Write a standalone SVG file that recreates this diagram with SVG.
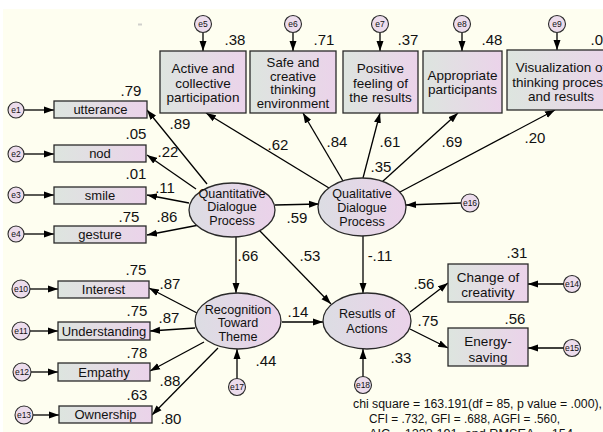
<svg xmlns="http://www.w3.org/2000/svg" width="603" height="432" viewBox="0 0 603 432">
<style>
.bx{stroke:#2a2a2a;stroke-width:1.3;fill:url(#gb)}
.el{stroke:#2a2a2a;stroke-width:1.3;fill:url(#ge)}
.ec{stroke:#2a2a2a;stroke-width:1.1;fill:#ecdcec}
.t{font-family:"Liberation Sans",Arial,sans-serif;fill:#111;text-anchor:middle}
.tb{font-size:13.5px}
.ts{font-size:13.2px}
.ti{font-size:13px}
.te{font-size:12.6px}
.tn{font-size:15px}
.tc{font-size:8.5px}
.ln{stroke:#000;stroke-width:1.3;fill:none;marker-end:url(#ah)}
.ft{font-family:"Liberation Sans",Arial,sans-serif;font-size:12.3px;fill:#111}
</style>
<defs>
<linearGradient id="gb" x1="0" y1="0" x2="1" y2="0">
<stop offset="0" stop-color="#dde5df"/>
<stop offset="1" stop-color="#ebd3ea"/>
</linearGradient>
<linearGradient id="ge" x1="0" y1="0" x2="1" y2="0">
<stop offset="0" stop-color="#dcdde3"/>
<stop offset="1" stop-color="#ebd2ea"/>
</linearGradient>
<marker id="ah" markerWidth="11" markerHeight="8" refX="10" refY="4" orient="auto" markerUnits="userSpaceOnUse">
<path d="M0,0.5 L10,4 L0,7.5 z" fill="#000"/>
</marker>
</defs>
<rect x="0" y="0" width="603" height="432" fill="#ffffff"/>
<rect x="3" y="9" width="600" height="423" fill="#fefef0"/>
<rect x="138" y="23.5" width="4" height="2" fill="#d0d0cc"/>

<g id="connectors">
<line class="ln" x1="203" y1="33" x2="203" y2="51"/>
<line class="ln" x1="293" y1="33" x2="293" y2="51"/>
<line class="ln" x1="380" y1="33" x2="380" y2="51"/>
<line class="ln" x1="462" y1="33" x2="462" y2="51"/>
<line class="ln" x1="557" y1="33" x2="557" y2="50"/>
<line class="ln" x1="24" y1="110" x2="54" y2="110"/>
<line class="ln" x1="24" y1="154" x2="54" y2="154"/>
<line class="ln" x1="24" y1="195" x2="54" y2="195"/>
<line class="ln" x1="24" y1="234" x2="54" y2="234"/>
<line class="ln" x1="30" y1="289" x2="58" y2="289"/>
<line class="ln" x1="30" y1="331" x2="58" y2="331"/>
<line class="ln" x1="31" y1="372" x2="58" y2="372"/>
<line class="ln" x1="33" y1="415" x2="59" y2="415"/>
<line class="ln" x1="564" y1="284" x2="528" y2="284"/>
<line class="ln" x1="564" y1="348" x2="528" y2="348"/>
<line class="ln" x1="461" y1="203" x2="406" y2="205"/>
<line class="ln" x1="237" y1="379" x2="237" y2="349"/>
<line class="ln" x1="363" y1="377" x2="363" y2="349"/>
<line class="ln" x1="329" y1="188" x2="206" y2="113"/>
<line class="ln" x1="343" y1="181" x2="303" y2="113"/>
<line class="ln" x1="363" y1="178" x2="380" y2="113"/>
<line class="ln" x1="382" y1="182" x2="458" y2="113"/>
<line class="ln" x1="400" y1="192" x2="555" y2="110"/>
<line class="ln" x1="207" y1="184" x2="147" y2="110"/>
<line class="ln" x1="196" y1="189" x2="147" y2="155"/>
<line class="ln" x1="189" y1="203" x2="147" y2="195"/>
<line class="ln" x1="199" y1="225" x2="147" y2="235"/>
<line class="ln" x1="275" y1="205" x2="319" y2="204"/>
<line class="ln" x1="236" y1="237" x2="236" y2="293"/>
<line class="ln" x1="259" y1="230" x2="331" y2="304"/>
<line class="ln" x1="363" y1="236" x2="363" y2="293"/>
<line class="ln" x1="282" y1="322" x2="323" y2="322"/>
<line class="ln" x1="410" y1="312" x2="448" y2="283"/>
<line class="ln" x1="410" y1="329" x2="448" y2="348"/>
<line class="ln" x1="197" y1="313" x2="149" y2="288"/>
<line class="ln" x1="195" y1="328" x2="150" y2="331"/>
<line class="ln" x1="204" y1="342" x2="150" y2="371"/>
<line class="ln" x1="218" y1="348" x2="152" y2="415"/>
</g>

<g id="coefficients">
<text class="t tn" x="235" y="45">.38</text>
<text class="t tn" x="324" y="45">.71</text>
<text class="t tn" x="408" y="45">.37</text>
<text class="t tn" x="492" y="45">.48</text>
<text class="t tn" x="601" y="45">.04</text>
<text class="t tn" x="278" y="150">.62</text>
<text class="t tn" x="337" y="147">.84</text>
<text class="t tn" x="390" y="147">.61</text>
<text class="t tn" x="452" y="147">.69</text>
<text class="t tn" x="535" y="143">.20</text>
<text class="t tn" x="381" y="172">.35</text>
<text class="t tn" x="131" y="96">.79</text>
<text class="t tn" x="180" y="129">.89</text>
<text class="t tn" x="136" y="139">.05</text>
<text class="t tn" x="168" y="157">.22</text>
<text class="t tn" x="136" y="179">.01</text>
<text class="t tn" x="165" y="193">.11</text>
<text class="t tn" x="129" y="222">.75</text>
<text class="t tn" x="167" y="222">.86</text>
<text class="t tn" x="297" y="223">.59</text>
<text class="t tn" x="248" y="261">.66</text>
<text class="t tn" x="310" y="261">.53</text>
<text class="t tn" x="380" y="261">-.11</text>
<text class="t tn" x="517" y="258">.31</text>
<text class="t tn" x="424" y="289">.56</text>
<text class="t tn" x="428" y="326">.75</text>
<text class="t tn" x="515" y="324">.56</text>
<text class="t tn" x="401" y="363">.33</text>
<text class="t tn" x="298" y="317">.14</text>
<text class="t tn" x="266" y="366">.44</text>
<text class="t tn" x="136" y="275">.75</text>
<text class="t tn" x="170" y="289">.87</text>
<text class="t tn" x="137" y="316">.75</text>
<text class="t tn" x="169" y="323">.87</text>
<text class="t tn" x="137" y="358">.78</text>
<text class="t tn" x="170" y="386">.88</text>
<text class="t tn" x="137" y="400">.63</text>
<text class="t tn" x="171" y="424">.80</text>
</g>

<g id="n_active"><rect class="bx" x="160" y="51" width="86" height="62"/>
<text class="t tb" x="203" y="73">Active and</text><text class="t tb" x="203" y="87.5">collective</text><text class="t tb" x="203" y="102">participation</text></g>
<g id="n_safe"><rect class="bx" x="250" y="51" width="86" height="62"/>
<text class="t ts" x="293" y="67">Safe and</text><text class="t ts" x="293" y="80.5">creative</text><text class="t ts" x="293" y="94">thinking</text><text class="t ts" x="293" y="108">environment</text></g>
<g id="n_positive"><rect class="bx" x="343" y="51" width="75" height="62"/>
<text class="t tb" x="380.5" y="73">Positive</text><text class="t tb" x="380.5" y="87.5">feeling of</text><text class="t tb" x="380.5" y="102">the results</text></g>
<g id="n_appropriate"><rect class="bx" x="423" y="51" width="79" height="62"/>
<text class="t tb" x="462.5" y="79.5">Appropriate</text><text class="t tb" x="462.5" y="94">participants</text></g>
<g id="n_visualization"><rect class="bx" x="507" y="50" width="110" height="60"/>
<text class="t tb" x="561" y="72">Visualization of</text><text class="t tb" x="561" y="86.5">thinking process</text><text class="t tb" x="561" y="101">and results</text></g>

<g id="n_utterance"><rect class="bx" x="54" y="101" width="93" height="17"/><text class="t ti" x="100.5" y="114">utterance</text></g>
<g id="n_nod"><rect class="bx" x="54" y="145" width="92" height="17"/><text class="t ti" x="100" y="158">nod</text></g>
<g id="n_smile"><rect class="bx" x="54" y="187" width="92" height="17"/><text class="t ti" x="100" y="200">smile</text></g>
<g id="n_gesture"><rect class="bx" x="54" y="226" width="92" height="17"/><text class="t ti" x="100" y="239">gesture</text></g>

<g id="n_interest"><rect class="bx" x="58" y="281" width="91" height="17"/><text class="t ti" x="103.5" y="294">Interest</text></g>
<g id="n_understanding"><rect class="bx" x="58" y="322" width="92" height="18"/><text class="t ti" x="104" y="335.5">Understanding</text></g>
<g id="n_empathy"><rect class="bx" x="58" y="363" width="92" height="18"/><text class="t ti" x="104" y="376.5">Empathy</text></g>
<g id="n_ownership"><rect class="bx" x="59" y="406" width="93" height="17"/><text class="t ti" x="105.5" y="419">Ownership</text></g>

<g id="n_change"><rect class="bx" x="448" y="264" width="80" height="38"/>
<text class="t tb" x="488" y="282">Change of</text><text class="t tb" x="488" y="297">creativity</text></g>
<g id="n_energy"><rect class="bx" x="448" y="328" width="80" height="38"/>
<text class="t tb" x="488" y="346">Energy-</text><text class="t tb" x="488" y="362">saving</text></g>

<g id="n_quantitative"><ellipse class="el" cx="232" cy="210" rx="43" ry="27"/>
<text class="t te" x="232" y="197.5">Quantitative</text><text class="t te" x="232" y="211">Dialogue</text><text class="t te" x="232" y="224.5">Process</text></g>
<g id="n_qualitative"><ellipse class="el" cx="362" cy="207" rx="44" ry="29"/>
<text class="t te" x="362" y="197.5">Qualitative</text><text class="t te" x="362" y="212">Dialogue</text><text class="t te" x="362" y="226">Process</text></g>
<g id="n_recognition"><ellipse class="el" cx="238" cy="321" rx="43" ry="28"/>
<text class="t te" x="238" y="313.5">Recognition</text><text class="t te" x="238" y="327">Toward</text><text class="t te" x="238" y="341">Theme</text></g>
<g id="n_results"><ellipse class="el" cx="367" cy="321" rx="44" ry="28"/>
<text class="t te" x="367" y="317.5">Resutls of</text><text class="t te" x="367" y="332.5">Actions</text></g>

<g id="e1"><circle class="ec" cx="16" cy="110" r="8"/><text class="t tc" x="16" y="113">e1</text></g>
<g id="e2"><circle class="ec" cx="16" cy="154" r="8"/><text class="t tc" x="16" y="157">e2</text></g>
<g id="e3"><circle class="ec" cx="16" cy="195" r="8"/><text class="t tc" x="16" y="198">e3</text></g>
<g id="e4"><circle class="ec" cx="16" cy="234" r="8"/><text class="t tc" x="16" y="237">e4</text></g>
<g id="e5"><circle class="ec" cx="203" cy="24" r="8.5"/><text class="t tc" x="203" y="27">e5</text></g>
<g id="e6"><circle class="ec" cx="293" cy="24" r="8.5"/><text class="t tc" x="293" y="27">e6</text></g>
<g id="e7"><circle class="ec" cx="380" cy="24" r="8.5"/><text class="t tc" x="380" y="27">e7</text></g>
<g id="e8"><circle class="ec" cx="462" cy="24" r="8.5"/><text class="t tc" x="462" y="27">e8</text></g>
<g id="e9"><circle class="ec" cx="557" cy="24" r="8.5"/><text class="t tc" x="557" y="27">e9</text></g>
<g id="e10"><circle class="ec" cx="21" cy="289" r="9"/><text class="t tc" x="21" y="292">e10</text></g>
<g id="e11"><circle class="ec" cx="21" cy="331" r="9"/><text class="t tc" x="21" y="334">e11</text></g>
<g id="e12"><circle class="ec" cx="22" cy="372" r="9"/><text class="t tc" x="22" y="375">e12</text></g>
<g id="e13"><circle class="ec" cx="24" cy="415" r="9"/><text class="t tc" x="24" y="418">e13</text></g>
<g id="e14"><circle class="ec" cx="572" cy="284" r="8.5"/><text class="t tc" x="572" y="287">e14</text></g>
<g id="e15"><circle class="ec" cx="572" cy="348" r="8.5"/><text class="t tc" x="572" y="351">e15</text></g>
<g id="e16"><circle class="ec" cx="470" cy="203" r="9"/><text class="t tc" x="470" y="206">e16</text></g>
<g id="e17"><circle class="ec" cx="237" cy="387" r="8.5"/><text class="t tc" x="237" y="390">e17</text></g>
<g id="e18"><circle class="ec" cx="363" cy="385" r="8.5"/><text class="t tc" x="363" y="388">e18</text></g>

<g id="fit">
<text class="ft" x="353" y="408" textLength="249" lengthAdjust="spacingAndGlyphs">chi square = 163.191(df = 85, p value = .000),</text>
<text class="ft" x="369" y="423" textLength="191" lengthAdjust="spacingAndGlyphs">CFI = .732, GFI = .688, AGFI = .560,</text>
<text class="ft" x="369" y="438" textLength="204" lengthAdjust="spacingAndGlyphs">AIC = 1233.191, and RMSEA = .154</text>
</g>
</svg>
